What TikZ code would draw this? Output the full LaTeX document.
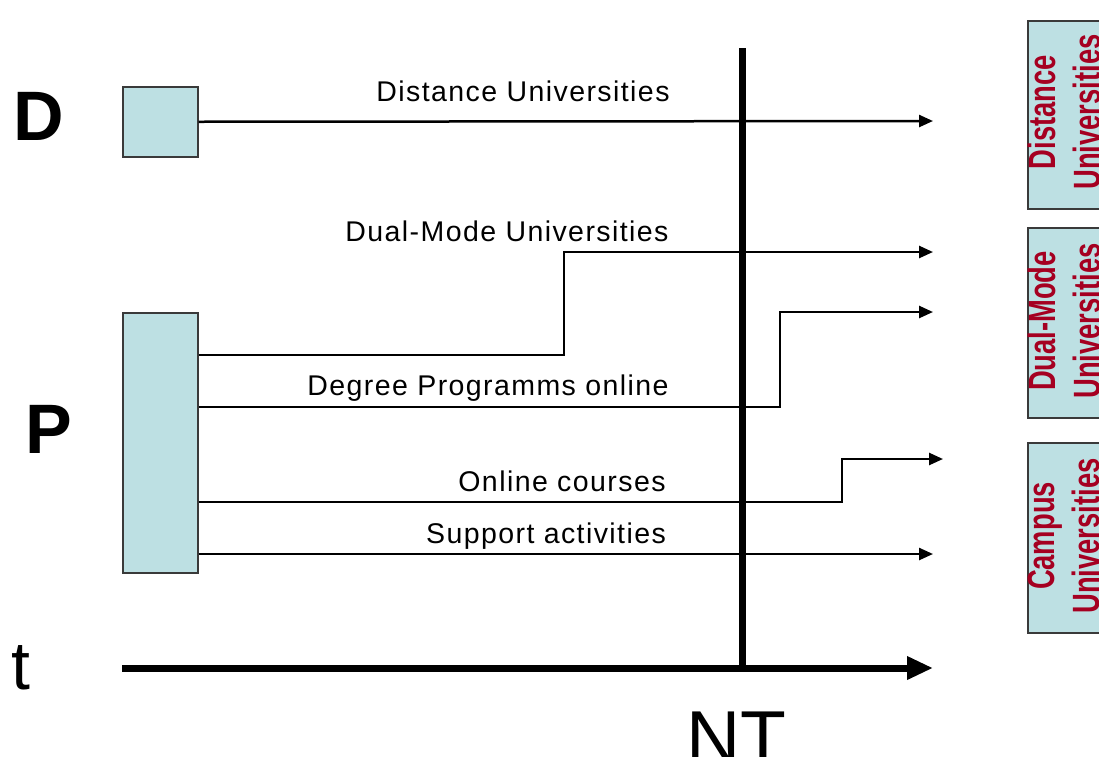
\documentclass[tikz,border=0pt]{standalone}
\usepackage{fontspec}
\setmainfont{Liberation Sans}
\usetikzlibrary{arrows.meta}
\definecolor{boxfill}{HTML}{BDE0E3}
\definecolor{boxline}{HTML}{3A3A3A}
\definecolor{unired}{HTML}{A50021}
\begin{document}
\begin{tikzpicture}[x=1pt,y=-1pt,
  bigletter/.style={inner sep=0pt,anchor=base west,font=\fontsize{70}{70}\selectfont\bfseries},
  axisletter/.style={inner sep=0pt,anchor=base west,font=\fontsize{68}{68}\selectfont},
  srcbox/.style={draw=boxline,line width=1.5pt,fill=boxfill,minimum width=75pt,anchor=north west,inner sep=0pt},
  unibox/.style={draw=boxline,line width=1.5pt,fill=boxfill,minimum width=90pt,anchor=north west,inner sep=0pt},
  unitext/.style={rotate=90,align=center,text=unired,inner sep=0pt,
    font=\fontsize{38}{45}\selectfont\bfseries},
  flow/.style={line width=2.5pt,-{Triangle[length=14pt,width=12pt]}},
  timeaxis/.style={line width=7pt,-{Triangle[length=26pt,width=22pt]}},
  flowlabel/.style={inner sep=0pt,anchor=base,
    font=\fontsize{28.5}{28.5}\selectfont\addfontfeature{LetterSpace=5}}]
\useasboundingbox (0,0) rectangle (1099,756);

% row letters
\node[bigletter] (dlet) at (13,140) {D};
\node[bigletter] (plet) at (25,453) {P};
\node[axisletter] (tlet) at (11,689) {t};
\node[inner sep=0pt,anchor=base west,font=\fontsize{75}{75}\selectfont] (ntlet) at (686,763) {NT};

% source boxes
\node[srcbox,minimum height=70pt] (dbox) at (122,86) {};
\node[srcbox,minimum height=260pt] (pbox) at (122,312) {};

% time axis and the NT marker
\coordinate (axstart) at (122,668);
\coordinate (axend) at (933,668);
\coordinate (nttop) at (742,48);
\coordinate (ntbot) at (742,668);
\draw[line width=7pt] (nttop) -- (ntbot);
\draw[timeaxis] (axstart) -- (axend);

% end points and steps of the flows
\coordinate (distend) at (933,121);
\coordinate (dualstep) at (564,252);
\coordinate (dualend) at (933,252);
\coordinate (degstep) at (780,312);
\coordinate (degend) at (933,312);
\coordinate (onlstep) at (842,459);
\coordinate (onlend) at (943,459);
\coordinate (supend) at (933,554);

\draw[flow] (dbox.east) -- (distend);
\draw[flow] ([yshift=-43pt]pbox.north east) -| (dualstep) -- (dualend);
\draw[flow] ([yshift=-95pt]pbox.north east) -| (degstep) -- (degend);
\draw[flow] ([yshift=-190pt]pbox.north east) -| (onlstep) -- (onlend);
\draw[flow] ([yshift=-242pt]pbox.north east) -- (supend);

% flow labels
\node[flowlabel] (ldist) at (523,101) {Distance Universities};
\node[flowlabel] (ldual) at (507,241) {Dual-Mode Universities};
\node[flowlabel] (ldeg) at (488,395) {Degree Programms online};
\node[flowlabel] (lonl) at (562,491) {Online courses};
\node[flowlabel] (lsup) at (546,543) {Support activities};

% university types
\node[unibox,minimum height=188pt] (udist) at (1027,20) {};
\node[unibox,minimum height=190pt] (udual) at (1027,227) {};
\node[unibox,minimum height=190pt] (ucamp) at (1027,442) {};
\node[unitext] (tdist) at (1064,112) {\scalebox{0.72}[1]{Distance}\\\scalebox{0.72}[1]{Universities}};
\node[unitext] (tdual) at (1064,321) {\scalebox{0.72}[1]{Dual-Mode}\\\scalebox{0.72}[1]{Universities}};
\node[unitext] (tcamp) at (1064,536) {\scalebox{0.72}[1]{Campus}\\\scalebox{0.72}[1]{Universities}};
\end{tikzpicture}
\end{document}
